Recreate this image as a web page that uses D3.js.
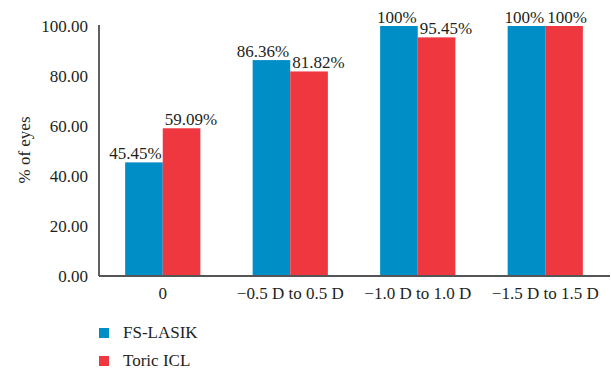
<!DOCTYPE html>
<html>
<head>
<meta charset="utf-8">
<script src="https://cdn.jsdelivr.net/npm/d3@7"></script>
<style>
  html, body { margin: 0; padding: 0; background: #fff; }
</style>
</head>
<body>
<svg id="chart" width="611" height="373"></svg>
<script>
// Refractive astigmatism bins and percentage of eyes within each
const categories = ["0", "\u22120.5 D to 0.5 D", "\u22121.0 D to 1.0 D", "\u22121.5 D to 1.5 D"];
const seriesNames = ["FS-LASIK", "Toric ICL"];
const fsLasik = [45.45, 86.36, 100, 100];
const toricIcl = [59.09, 81.82, 95.45, 100];
const valueLabels = [
  ["45.45%", "86.36%", "100%", "100%"],
  ["59.09%", "81.82%", "95.45%", "100%"]
];
const yTicks = [0, 20, 40, 60, 80, 100];
const colors = ["#008ec6", "#ee373e"];

const FONT = "'Liberation Serif', 'Times New Roman', 'DejaVu Serif', serif";
const FS = 17;
const TXT = "#231f20";

const svg = d3.select("#chart");
const x0 = 99, x1 = 609, yBase = 276, yTop = 26;

const x = d3.scaleBand().domain(categories).range([x0, x1])
  .paddingInner(0.41).paddingOuter(0.205);
const xs = d3.scaleBand().domain(seriesNames).range([0, x.bandwidth()]);
const y = d3.scaleLinear().domain([0, 100]).range([yBase, yTop]);

const series = [fsLasik, toricIcl];

// Bars
seriesNames.forEach((name, si) => {
  svg.append("g").selectAll("rect")
    .data(series[si])
    .join("rect")
    .attr("x", (d, i) => x(categories[i]) + xs(name))
    .attr("y", d => y(d))
    .attr("width", xs.bandwidth())
    .attr("height", d => yBase - y(d))
    .attr("fill", colors[si]);
});

// Value labels: first series right-aligned to its bar, second left-aligned
seriesNames.forEach((name, si) => {
  svg.append("g").selectAll("text")
    .data(series[si])
    .join("text")
    .attr("x", (d, i) => si === 0
      ? x(categories[i]) + xs(name) + xs.bandwidth() - 1
      : x(categories[i]) + xs(name) + 2)
    .attr("y", d => y(d) - 3)
    .attr("text-anchor", si === 0 ? "end" : "start")
    .attr("font-family", FONT)
    .attr("font-size", FS)
    .attr("fill", TXT)
    .text((d, i) => valueLabels[si][i]);
});

// Y axis
const yAxis = d3.axisLeft(y).tickValues(yTicks).tickSize(0).tickPadding(11)
  .tickFormat(d3.format(".2f"));
const gy = svg.append("g").attr("transform", `translate(${x0},0)`).call(yAxis)
  .attr("font-family", FONT).attr("font-size", FS);
gy.select(".domain").attr("stroke", "#2b2b2b").attr("stroke-width", 1.5)
  .attr("d", `M0,${yTop - 1}V${yBase}`);
gy.selectAll("text").attr("fill", TXT);

// X axis
const xAxis = d3.axisBottom(x).tickSize(0).tickPadding(11);
const gx = svg.append("g").attr("transform", `translate(0,${yBase})`).call(xAxis)
  .attr("font-family", FONT).attr("font-size", FS);
gx.select(".domain").attr("stroke", "#555").attr("stroke-width", 2)
  .attr("d", `M${x0},0H${x1 + 1}`);
gx.selectAll("text").attr("fill", TXT);

// Y axis title
svg.append("text")
  .attr("transform", "translate(30,150) rotate(-90)")
  .attr("text-anchor", "middle")
  .attr("font-family", FONT)
  .attr("font-size", FS)
  .attr("fill", TXT)
  .text("% of eyes");

// Legend
const legend = svg.append("g").selectAll("g")
  .data(seriesNames)
  .join("g")
  .attr("transform", (d, i) => `translate(99,${328 + i * 28})`);
legend.append("rect").attr("width", 10).attr("height", 10)
  .attr("fill", (d, i) => colors[i]);
legend.append("text").attr("x", 24).attr("y", 10)
  .attr("font-family", FONT)
  .attr("font-size", FS)
  .attr("fill", TXT)
  .text(d => d);
</script>
</body>
</html>
